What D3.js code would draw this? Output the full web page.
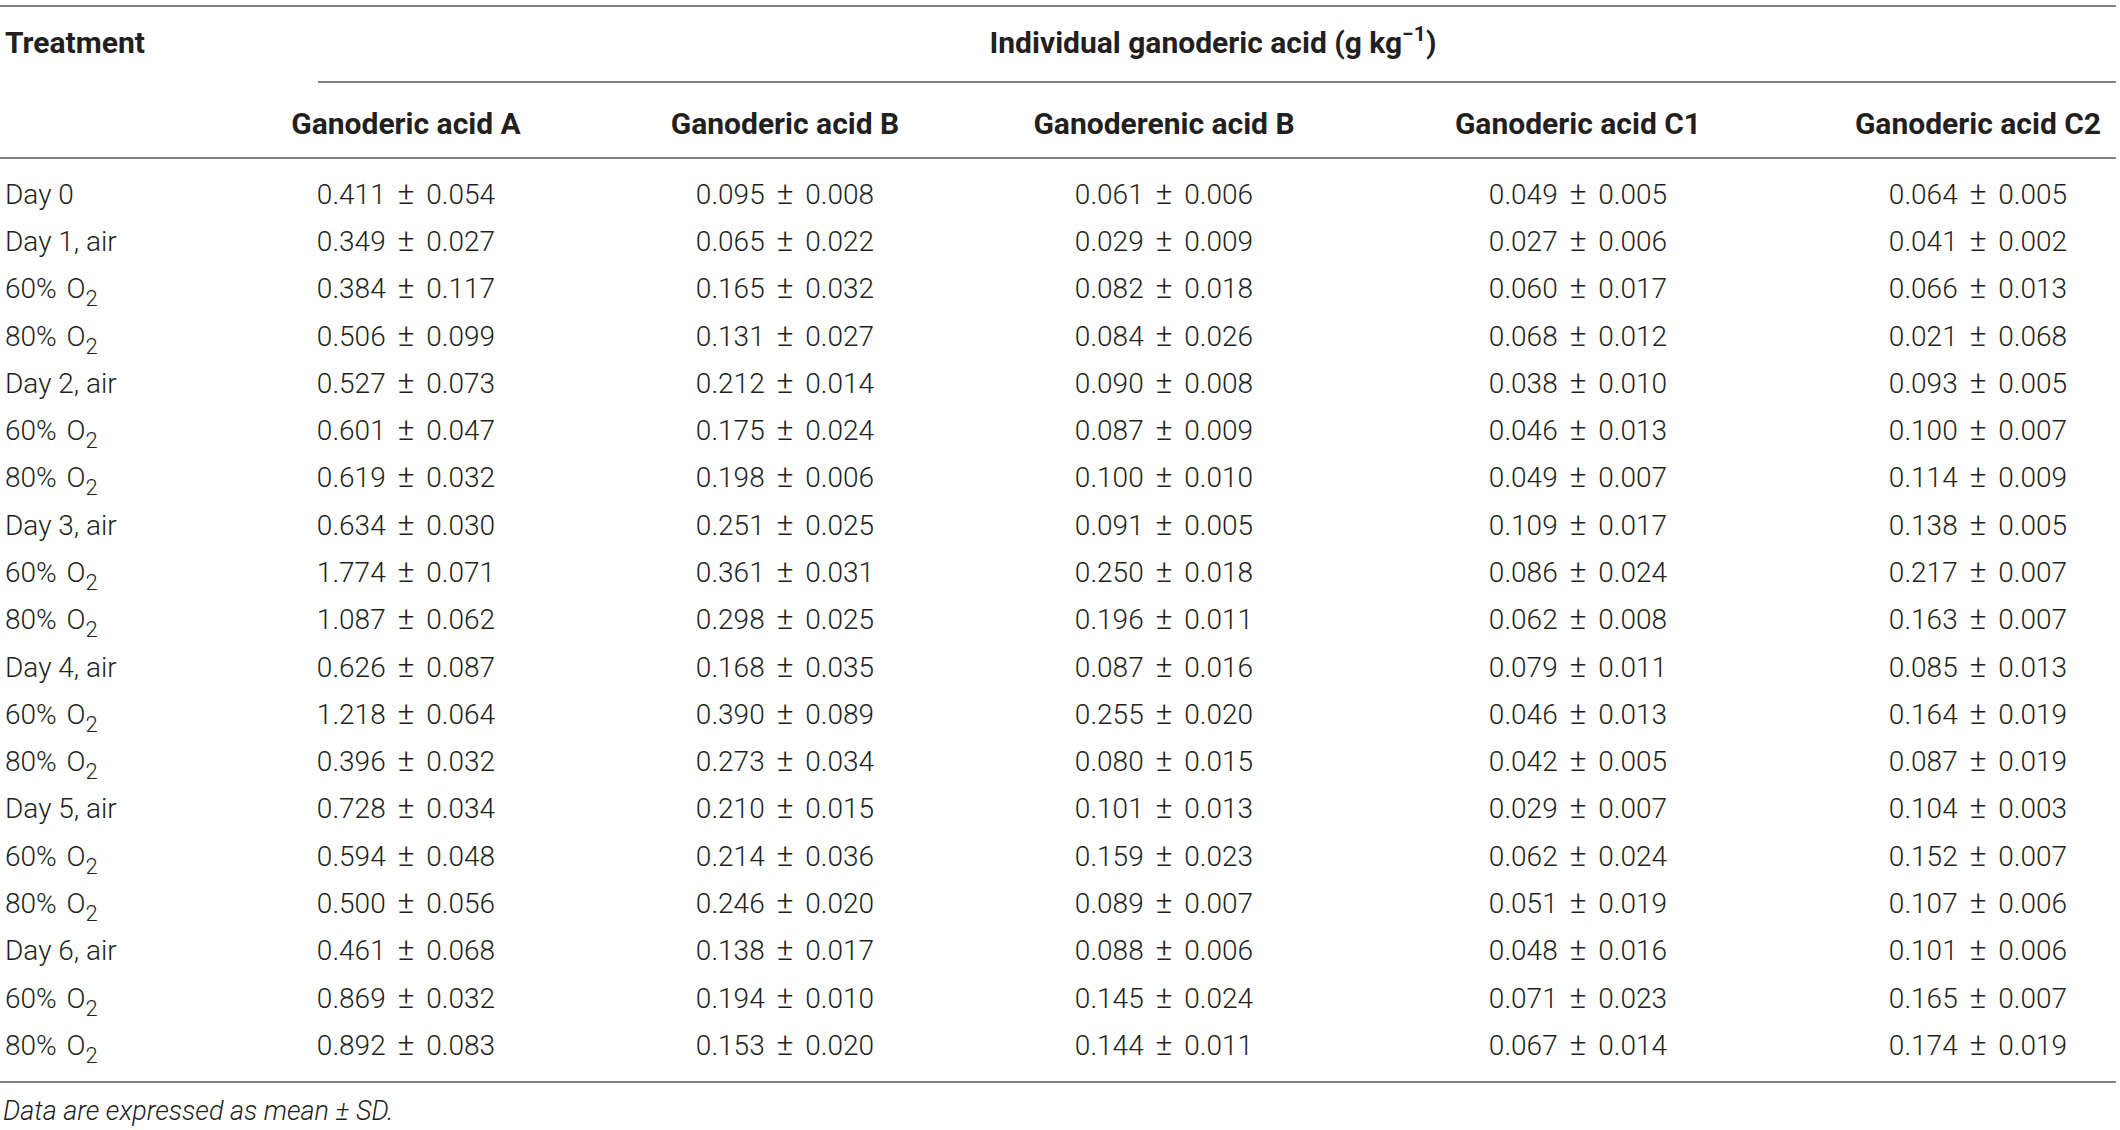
<!DOCTYPE html>
<html>
<head>
<meta charset="utf-8">
<script src="https://cdn.jsdelivr.net/npm/d3@7"></script>
<style>
    body { margin: 0; background: #fff; }
    svg { display: block; }
    text { font-family: Roboto, "Liberation Sans", sans-serif; fill: #231f20; }
</style>
</head>
<body>
<div id="table"></div>
<script>
// Table content
const treatments = ['Day 0', 'Day 1, air', '60% O2', '80% O2', 'Day 2, air', '60% O2', '80% O2',
    'Day 3, air', '60% O2', '80% O2', 'Day 4, air', '60% O2', '80% O2',
    'Day 5, air', '60% O2', '80% O2', 'Day 6, air', '60% O2', '80% O2'];

const acids = ['Ganoderic acid A', 'Ganoderic acid B', 'Ganoderenic acid B', 'Ganoderic acid C1', 'Ganoderic acid C2'];

const acidA = ['0.411 ± 0.054', '0.349 ± 0.027', '0.384 ± 0.117', '0.506 ± 0.099', '0.527 ± 0.073', '0.601 ± 0.047',
    '0.619 ± 0.032', '0.634 ± 0.030', '1.774 ± 0.071', '1.087 ± 0.062', '0.626 ± 0.087', '1.218 ± 0.064',
    '0.396 ± 0.032', '0.728 ± 0.034', '0.594 ± 0.048', '0.500 ± 0.056', '0.461 ± 0.068', '0.869 ± 0.032', '0.892 ± 0.083'];
const acidB = ['0.095 ± 0.008', '0.065 ± 0.022', '0.165 ± 0.032', '0.131 ± 0.027', '0.212 ± 0.014', '0.175 ± 0.024',
    '0.198 ± 0.006', '0.251 ± 0.025', '0.361 ± 0.031', '0.298 ± 0.025', '0.168 ± 0.035', '0.390 ± 0.089',
    '0.273 ± 0.034', '0.210 ± 0.015', '0.214 ± 0.036', '0.246 ± 0.020', '0.138 ± 0.017', '0.194 ± 0.010', '0.153 ± 0.020'];
const acidEnB = ['0.061 ± 0.006', '0.029 ± 0.009', '0.082 ± 0.018', '0.084 ± 0.026', '0.090 ± 0.008', '0.087 ± 0.009',
    '0.100 ± 0.010', '0.091 ± 0.005', '0.250 ± 0.018', '0.196 ± 0.011', '0.087 ± 0.016', '0.255 ± 0.020',
    '0.080 ± 0.015', '0.101 ± 0.013', '0.159 ± 0.023', '0.089 ± 0.007', '0.088 ± 0.006', '0.145 ± 0.024', '0.144 ± 0.011'];
const acidC1 = ['0.049 ± 0.005', '0.027 ± 0.006', '0.060 ± 0.017', '0.068 ± 0.012', '0.038 ± 0.010', '0.046 ± 0.013',
    '0.049 ± 0.007', '0.109 ± 0.017', '0.086 ± 0.024', '0.062 ± 0.008', '0.079 ± 0.011', '0.046 ± 0.013',
    '0.042 ± 0.005', '0.029 ± 0.007', '0.062 ± 0.024', '0.051 ± 0.019', '0.048 ± 0.016', '0.071 ± 0.023', '0.067 ± 0.014'];
const acidC2 = ['0.064 ± 0.005', '0.041 ± 0.002', '0.066 ± 0.013', '0.021 ± 0.068', '0.093 ± 0.005', '0.100 ± 0.007',
    '0.114 ± 0.009', '0.138 ± 0.005', '0.217 ± 0.007', '0.163 ± 0.007', '0.085 ± 0.013', '0.164 ± 0.019',
    '0.087 ± 0.019', '0.104 ± 0.003', '0.152 ± 0.007', '0.107 ± 0.006', '0.101 ± 0.006', '0.165 ± 0.007', '0.174 ± 0.019'];

const columns = [acidA, acidB, acidEnB, acidC1, acidC2];

function drawTable() {
    const width = 2120;
    const height = 1130;
    const fontSize = 28;
    const headSize = 30;

    const svg = d3.select('#table')
        .append('svg')
        .attr('width', width)
        .attr('height', height);

    // Layout scales
    const x = d3.scaleOrdinal()
        .domain(acids)
        .range([406, 785, 1164, 1578, 1978]);

    const y = d3.scalePoint()
        .domain(d3.range(treatments.length))
        .range([194, 1045]);

    const rule = (x1, x2, yy) => svg.append('line')
        .attr('x1', x1).attr('x2', x2)
        .attr('y1', yy).attr('y2', yy)
        .style('stroke', '#808080')
        .style('stroke-width', 2);

    rule(0, 2116, 6);
    rule(318, 2116, 82);
    rule(0, 2116, 158);
    rule(0, 2116, 1082);

    // Header
    svg.append('text')
        .attr('x', 5).attr('y', 42).attr('dy', '0.35em')
        .style('font-size', headSize + 'px')
        .style('font-weight', 700)
        .text('Treatment');

    const group = svg.append('text')
        .attr('x', 1213).attr('y', 42).attr('dy', '0.35em')
        .style('text-anchor', 'middle')
        .style('font-size', headSize + 'px')
        .style('font-weight', 700);
    group.append('tspan').text('Individual ganoderic acid (g kg');
    group.append('tspan').attr('dy', -12).style('font-size', '21px').text('−1');
    group.append('tspan').attr('dy', 12).text(')');

    svg.append('g')
        .selectAll('text')
        .data(acids)
        .enter()
        .append('text')
        .attr('x', d => x(d))
        .attr('y', 123)
        .attr('dy', '0.35em')
        .style('text-anchor', 'middle')
        .style('font-size', headSize + 'px')
        .style('font-weight', 700)
        .text(d => d);

    // Treatment labels, with O2 subscripts
    const labels = svg.append('g')
        .selectAll('text')
        .data(treatments)
        .enter()
        .append('text')
        .attr('x', 5)
        .attr('y', (d, i) => y(i))
        .attr('dy', '0.35em')
        .style('font-size', fontSize + 'px')
        .style('font-weight', 300);

    labels.each(function(d) {
        const t = d3.select(this);
        if (d.endsWith('O2')) {
            t.append('tspan').style('word-spacing', '3px').text(d.slice(0, -1));
            t.append('tspan').attr('dy', 8).style('font-size', '22px').text('2');
        } else {
            t.text(d);
        }
    });

    // Values: mean ± SD, with a larger ± sign
    columns.forEach((col, c) => {
        const cells = svg.append('g')
            .selectAll('text')
            .data(col)
            .enter()
            .append('text')
            .attr('x', x(acids[c]))
            .attr('y', (d, i) => y(i))
            .attr('dy', '0.35em')
            .style('text-anchor', 'middle')
            .style('font-size', fontSize + 'px')
            .style('font-weight', 300)
            .style('word-spacing', '5px');

        cells.each(function(d) {
            const parts = d.split(' ± ');
            const t = d3.select(this);
            t.append('tspan').text(parts[0] + ' ');
            t.append('tspan').style('font-size', '32px').text('±');
            t.append('tspan').text(' ' + parts[1]);
        });
    });

    // Footnote
    svg.append('text')
        .attr('x', 3).attr('y', 1111).attr('dy', '0.35em')
        .style('font-size', '27px')
        .style('font-weight', 300)
        .style('font-style', 'italic')
        .text('Data are expressed as mean ± SD.');
}

drawTable();
</script>
</body>
</html>
